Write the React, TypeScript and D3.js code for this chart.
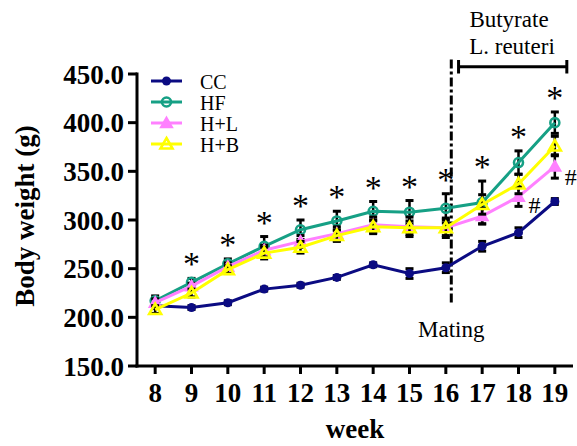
import React from "react";
import * as d3 from "d3";

// Body weight (g) by week, mean ± SEM per group
const weeks = [8, 9, 10, 11, 12, 13, 14, 15, 16, 17, 18, 19];
const ccMean = [212, 210, 215, 229, 233, 241, 254, 245, 251, 273, 287, 319];
const ccSem = [3, 2, 2, 2, 2, 2, 2, 5, 5, 5, 5, 3];
const hfMean = [217, 236, 255, 273, 290, 299, 309, 308, 312, 318, 359, 400];
const hfSem = [5, 4, 5, 10, 10, 10, 10, 12, 15, 22, 12, 11];
const hlMean = [215, 232, 252, 269, 278, 286, 295, 293, 292, 304, 324, 355];
const hlSem = [4, 3, 4, 5, 6, 7, 8, 10, 10, 8, 10, 12];
const hbMean = [208, 225, 249, 266, 272, 284, 293, 292, 292, 316, 337, 376];
const hbSem = [4, 4, 4, 6, 6, 6, 7, 7, 8, 10, 10, 10];

const yTicks = [150, 200, 250, 300, 350, 400, 450];
const starWeeks = [9, 10, 11, 12, 13, 14, 15, 16, 17, 18, 19];
const hashWeeks = [18, 19];
const matingWeek = 16.15;
const treatmentSpan = [16.35, 19.33];

type Shape = "dot" | "ring" | "tri" | "triOpen";
const groups: { name: string; mean: number[]; sem: number[]; color: string; shape: Shape }[] = [
  { name: "CC", mean: ccMean, sem: ccSem, color: "#0b0b82", shape: "dot" },
  { name: "HF", mean: hfMean, sem: hfSem, color: "#16a085", shape: "ring" },
  { name: "H+L", mean: hlMean, sem: hlSem, color: "#ff80ff", shape: "tri" },
  { name: "H+B", mean: hbMean, sem: hbSem, color: "#ffff00", shape: "triOpen" },
];

const FONT = "'Liberation Serif', 'Times New Roman', Times, serif";

function Marker({ shape, color, cx, cy }: { shape: Shape; color: string; cx: number; cy: number }) {
  if (shape === "dot") return <circle cx={cx} cy={cy} r={4.5} fill={color} />;
  if (shape === "ring")
    return <circle cx={cx} cy={cy} r={4.5} fill="none" stroke={color} strokeWidth={2.6} />;
  const s = 6;
  const pts = `${cx},${cy - s} ${cx + s},${cy + s * 0.75} ${cx - s},${cy + s * 0.75}`;
  if (shape === "tri") return <polygon points={pts} fill={color} stroke={color} strokeWidth={1.5} />;
  return <polygon points={pts} fill="none" stroke={color} strokeWidth={2.6} strokeLinejoin="miter" />;
}

export default function App() {
  const W = 577;
  const H = 446;
  const x = d3.scaleLinear().domain([7.5, 19.5]).range([137, 573]);
  const y = d3.scaleLinear().domain([150, 450]).range([366, 74]);
  const line = d3
    .line<number>()
    .x((_, i) => x(weeks[i]))
    .y((d) => y(d));

  const hf = groups[1];
  const hl = groups[2];

  return (
    <svg
      width={W}
      height={H}
      style={{ position: "absolute", left: 0, top: 0, background: "#fff" }}
      fontFamily={FONT}
    >
      {/* axes */}
      <line x1={x(7.5)} x2={x(7.5)} y1={y(450) - 1.5} y2={y(150) + 1.5} stroke="#000" strokeWidth={3} />
      <line x1={x(7.5) - 1.5} x2={x(19.5)} y1={y(150)} y2={y(150)} stroke="#000" strokeWidth={3} />
      {yTicks.map((t) => (
        <g key={t}>
          <line x1={x(7.5) - 9} x2={x(7.5)} y1={y(t)} y2={y(t)} stroke="#000" strokeWidth={3} />
          <text x={124} y={y(t) + 9.5} textAnchor="end" fontSize={27} fontWeight="bold">
            {t.toFixed(1)}
          </text>
        </g>
      ))}
      {weeks.map((w) => (
        <g key={w}>
          <line x1={x(w)} x2={x(w)} y1={y(150)} y2={y(150) + 8} stroke="#000" strokeWidth={3} />
          <text x={x(w)} y={402} textAnchor="middle" fontSize={27} fontWeight="bold">
            {w}
          </text>
        </g>
      ))}
      <text x={355} y={438} textAnchor="middle" fontSize={27} fontWeight="bold">
        week
      </text>
      <text
        transform={`translate(34, ${y(300) - 4}) rotate(-90)`}
        textAnchor="middle"
        fontSize={27}
        fontWeight="bold"
      >
        Body weight (g)
      </text>

      {/* mating marker */}
      <line
        x1={x(matingWeek)}
        x2={x(matingWeek)}
        y1={y(465)}
        y2={y(213)}
        stroke="#000"
        strokeWidth={3}
        strokeDasharray="9,3,3,3"
      />
      <text x={x(matingWeek)} y={337} textAnchor="middle" fontSize={23}>
        Mating
      </text>

      {/* treatment period bracket */}
      <g stroke="#000" strokeWidth={3}>
        <line x1={x(treatmentSpan[0])} x2={x(treatmentSpan[1])} y1={66.7} y2={66.7} />
        <line x1={x(treatmentSpan[0])} x2={x(treatmentSpan[0])} y1={60} y2={73.5} />
        <line x1={x(treatmentSpan[1])} x2={x(treatmentSpan[1])} y1={60} y2={73.5} />
      </g>
      <text x={509} y={27} textAnchor="middle" fontSize={23}>
        Butyrate
      </text>
      <text x={512} y={54} textAnchor="middle" fontSize={23}>
        L. reuteri
      </text>

      {/* series: error bars, line, markers */}
      {groups.map((g) => (
        <g key={g.name}>
          {g.mean.map((m, i) => {
            const cx = x(weeks[i]);
            const top = y(m + g.sem[i]);
            const bot = y(m - g.sem[i]);
            return (
              <g key={i} stroke="#000" strokeWidth={2.5}>
                <line x1={cx} x2={cx} y1={top} y2={bot} />
                <line x1={cx - 4} x2={cx + 4} y1={top} y2={top} strokeWidth={3} />
                <line x1={cx - 4} x2={cx + 4} y1={bot} y2={bot} strokeWidth={3} />
              </g>
            );
          })}
          <path d={line(g.mean) ?? ""} fill="none" stroke={g.color} strokeWidth={3} />
          {g.mean.map((m, i) => (
            <Marker key={i} shape={g.shape} color={g.color} cx={x(weeks[i])} cy={y(m)} />
          ))}
        </g>
      ))}

      {/* significance marks */}
      {starWeeks.map((w) => {
        const i = weeks.indexOf(w);
        return (
          <text key={w} x={x(w)} y={y(hf.mean[i] + hf.sem[i]) - 3} textAnchor="middle" fontSize={34}>
            *
          </text>
        );
      })}
      {hashWeeks.map((w) => {
        const i = weeks.indexOf(w);
        return (
          <text key={w} x={x(w) + 16} y={y(hl.mean[i] - hl.sem[i]) + 7} textAnchor="middle" fontSize={24}>
            #
          </text>
        );
      })}

      {/* legend */}
      {groups.map((g, i) => {
        const ly = 81 + i * 21;
        return (
          <g key={g.name}>
            <line x1={151} x2={182} y1={ly} y2={ly} stroke={g.color} strokeWidth={3} />
            <Marker shape={g.shape} color={g.color} cx={166.5} cy={ly} />
            <text x={200} y={ly + 7.5} fontSize={20}>
              {g.name}
            </text>
          </g>
        );
      })}
    </svg>
  );
}
